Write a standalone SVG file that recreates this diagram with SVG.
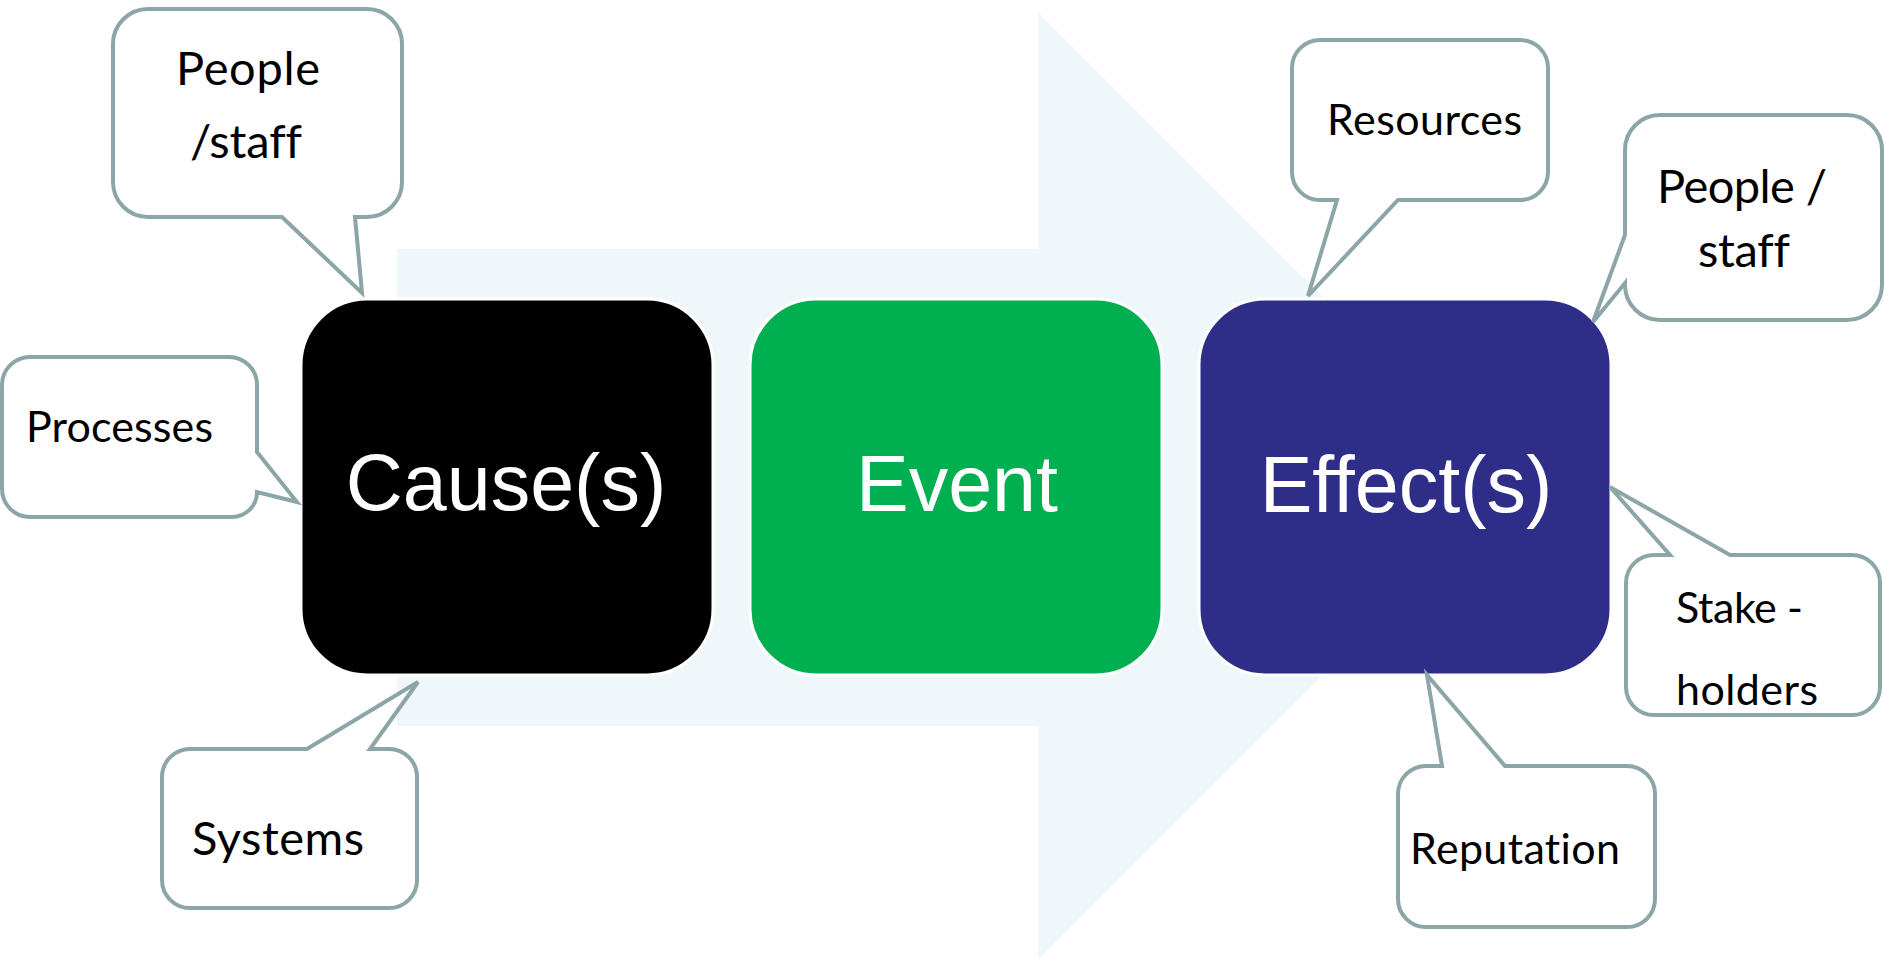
<svg xmlns="http://www.w3.org/2000/svg" width="1884" height="960" viewBox="0 0 1884 960">
  <style>
    text { font-variant-ligatures: none; font-feature-settings: "liga" 0, "clig" 0, "dlig" 0; }
    .stage { stroke: #ffffff; stroke-width: 3; }
    .stage-label { font-family: "Liberation Sans", Arial, sans-serif; font-size: 79px; fill: #ffffff; text-anchor: middle; }
    .callout { fill: #ffffff; stroke: #8CA6A8; stroke-width: 4; stroke-linejoin: miter; }
    .note { font-family: Lato, "Noto Sans", sans-serif; fill: #000000; }
    .n43 { font-size: 43px; }
    .n47 { font-size: 47px; }
  </style>

  <!-- background flow arrow -->
  <g id="connectors">
    <polygon id="flow-arrow" points="397,249 1038,249 1038,12 1512,486 1038,960 1038,726 397,726" fill="#EFF7FA"/>
  </g>

  <!-- main stages -->
  <g id="cause">
    <rect class="stage" x="301" y="299" width="412" height="376" rx="66" ry="66" fill="#000000"/>
    <text class="stage-label" x="506" y="510">Cause(s)</text>
  </g>
  <g id="event">
    <rect class="stage" x="750" y="299" width="412" height="376" rx="66" ry="66" fill="#00B050"/>
    <text class="stage-label" x="957" y="511">Event</text>
  </g>
  <g id="effect">
    <rect class="stage" x="1199" y="299" width="412" height="376" rx="66" ry="66" fill="#2E2E89"/>
    <text class="stage-label" x="1406" y="512">Effect(s)</text>
  </g>

  <!-- cause callouts -->
  <g id="cause-people">
    <path class="callout" d="M148,9 H367 A35,35 0 0 1 402,44 V182 A35,35 0 0 1 367,217 H355 L362,293 L282,217 H148 A35,35 0 0 1 113,182 V44 A35,35 0 0 1 148,9 Z"/>
    <text class="note n47" x="176" y="85" textLength="144">People</text>
    <text class="note n47" x="190" y="158" textLength="112">/staff</text>
  </g>
  <g id="cause-processes">
    <path class="callout" d="M30,357 H229 A28,28 0 0 1 257,385 V452 L297,502 L257,492 A25,25 0 0 1 232,517 H30 A28,28 0 0 1 2,489 V385 A28,28 0 0 1 30,357 Z"/>
    <text class="note n43" x="26" y="442" textLength="187">Processes</text>
  </g>
  <g id="cause-systems">
    <path class="callout" d="M190,749 H307 L418,682 L370,749 H389 A28,28 0 0 1 417,777 V880 A28,28 0 0 1 389,908 H190 A28,28 0 0 1 162,880 V777 A28,28 0 0 1 190,749 Z"/>
    <text class="note n47" x="192" y="855" textLength="172">Systems</text>
  </g>

  <!-- effect callouts -->
  <g id="effect-resources">
    <path class="callout" d="M1320,40 H1520 A28,28 0 0 1 1548,68 V172 A28,28 0 0 1 1520,200 H1398 L1308,296 L1337,200 H1320 A28,28 0 0 1 1292,172 V68 A28,28 0 0 1 1320,40 Z"/>
    <text class="note n43" x="1327" y="135" textLength="195">Resources</text>
  </g>
  <g id="effect-people">
    <path class="callout" d="M1660,115 H1847 A35,35 0 0 1 1882,150 V285 A35,35 0 0 1 1847,320 H1660 A35,35 0 0 1 1625,285 V283 L1593,322 L1625,235 V150 A35,35 0 0 1 1660,115 Z"/>
    <text class="note n47" x="1657" y="203" textLength="170">People /</text>
    <text class="note n47" x="1698" y="267" textLength="92">staff</text>
  </g>
  <g id="effect-stakeholders">
    <path class="callout" d="M1654,555 H1670 L1610,487 L1730,555 H1852 A28,28 0 0 1 1880,583 V687 A28,28 0 0 1 1852,715 H1654 A28,28 0 0 1 1626,687 V583 A28,28 0 0 1 1654,555 Z"/>
    <text class="note n43" x="1676" y="623" textLength="127">Stake -</text>
    <text class="note n43" x="1676" y="705" textLength="142">holders</text>
  </g>
  <g id="effect-reputation">
    <path class="callout" d="M1426,766 H1442 L1427,675 L1505,766 H1627 A28,28 0 0 1 1655,794 V899 A28,28 0 0 1 1627,927 H1426 A28,28 0 0 1 1398,899 V794 A28,28 0 0 1 1426,766 Z"/>
    <text class="note n43" x="1410" y="864" textLength="210">Reputation</text>
  </g>
</svg>
